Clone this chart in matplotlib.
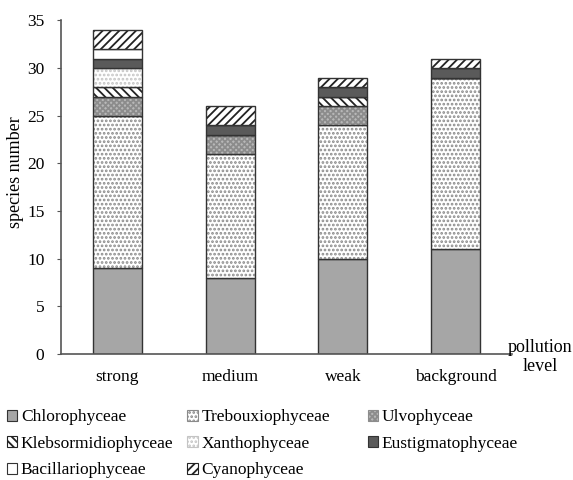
import numpy as np
import matplotlib.pyplot as plt
from matplotlib.patches import Patch

plt.rcParams['font.family'] = ['Liberation Serif', 'DejaVu Serif']
plt.rcParams['hatch.linewidth'] = 1.3

levels = ["strong", "medium", "weak", "background"]
classes = ["Chlorophyceae", "Trebouxiophyceae", "Ulvophyceae", "Klebsormidiophyceae",
           "Xanthophyceae", "Eustigmatophyceae", "Bacillariophyceae", "Cyanophyceae"]

chloro = [9, 8, 10, 11]
treboux = [16, 13, 14, 18]
ulvo = [2, 2, 2, 0]
klebs = [1, 0, 1, 0]
xantho = [2, 0, 0, 0]
eustig = [1, 1, 1, 1]
bacill = [1, 0, 0, 0]
cyano = [2, 2, 1, 1]

series = [chloro, treboux, ulvo, klebs, xantho, eustig, bacill, cyano]

# face, hatch, hatch colour
styles = [
    ("#a6a6a6", None, "#a6a6a6"),
    ("white", "....", "#8a8a8a"),
    ("#b8b8b8", "xxxxxx", "#8c8c8c"),
    ("white", "\\\\\\\\", "#222222"),
    ("white", "....", "#c4c4c4"),
    ("#5a5a5a", None, "#5a5a5a"),
    ("white", None, "#333333"),
    ("white", "////", "#222222"),
]

fig = plt.figure(figsize=(5.73, 4.8), dpi=100)
ax = fig.add_axes([0.1065, 0.2625, 0.787, 0.695])

x = np.arange(len(levels))
w = 0.435
bottom = np.zeros(len(levels))
for vals, (fc, hatch, hc) in zip(series, styles):
    vals = np.array(vals, dtype=float)
    ax.bar(x, vals, w, bottom=bottom, color=fc, hatch=hatch, edgecolor=hc, linewidth=0)
    ax.bar(x, vals, w, bottom=bottom, fill=False, edgecolor="#333333", linewidth=1.0)
    bottom += vals

ax.set_xlim(-0.5, 3.5)
ax.set_ylim(0, 35)
ax.set_yticks(range(0, 36, 5))
ax.set_xticks(x)
ax.set_xticklabels(levels)
ax.tick_params(axis="x", length=0, pad=11, labelsize=12.5)
ax.tick_params(axis="y", length=3, direction="out", color="#555555", labelsize=12.5, pad=9)
for s in ["top", "right"]:
    ax.spines[s].set_visible(False)
for s in ["left", "bottom"]:
    ax.spines[s].set_color("#555555")
    ax.spines[s].set_linewidth(1.2)
ax.set_ylabel("species number", fontsize=13)
ax.yaxis.set_label_coords(-0.083, 0.545)

ax.text(1.062, -0.008, "pollution\nlevel", transform=ax.transAxes, ha="center", va="center",
        fontsize=13, linespacing=1.15)

handles = [Patch(facecolor=fc, hatch=h, edgecolor=(hc if h else "#333333"), linewidth=0.8)
           for fc, h, hc in styles]
columns = [[0, 3, 6], [1, 4, 7], [2, 5]]
col_x = [0.012, 0.327, 0.642]
for cx, idx in zip(col_x, columns):
    fig.legend([handles[i] for i in idx], [classes[i] for i in idx], ncol=1,
               loc="upper left", bbox_to_anchor=(cx, 0.147), frameon=False, fontsize=12.5,
               handlelength=0.6, handleheight=0.6, handletextpad=0.2, labelspacing=0.6,
               borderpad=0, borderaxespad=0)

fig.savefig("out.png", dpi=100)
